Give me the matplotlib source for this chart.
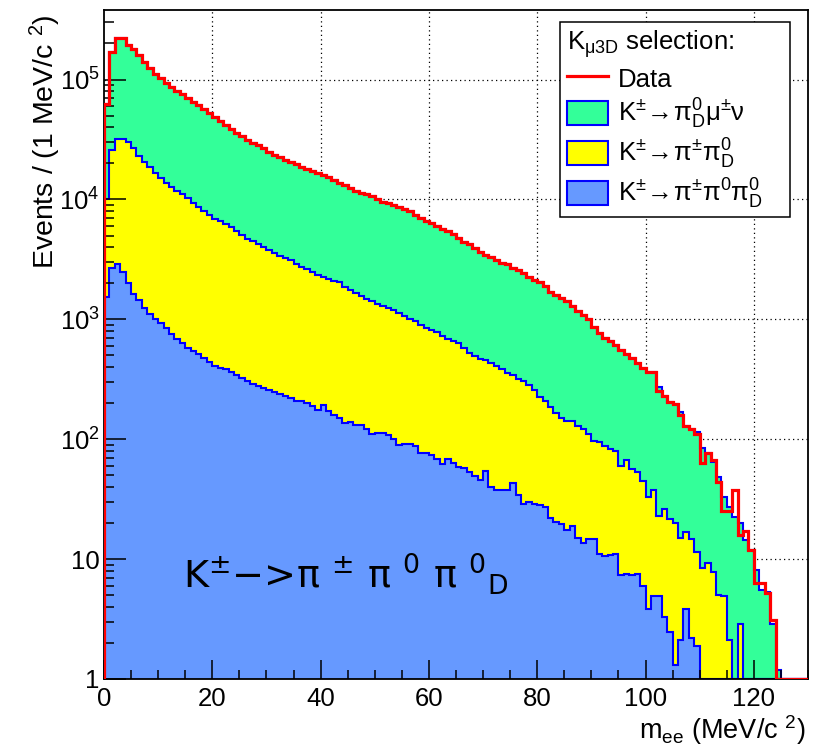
import numpy as np
import matplotlib
matplotlib.use("Agg")
import matplotlib.pyplot as plt
from matplotlib.lines import Line2D
from matplotlib.patches import Patch
from matplotlib.ticker import FixedLocator, NullFormatter, LogLocator

plt.rcParams['font.family'] = ['Liberation Sans', 'DejaVu Sans']
plt.rcParams['mathtext.default'] = 'regular'

# ---------------- data (1 MeV/c^2 bins from 0 to 130) ----------------
bin_edges = np.arange(0, 131, 1)

data = [63000, 170000, 220000, 220000, 195000, 179000, 159000, 141000, 125000, 111000,
        102000, 94000, 87000, 80000, 75000, 70000, 65000, 61000, 57000, 53000,
        49000, 45000, 41500, 38500, 35500, 33500, 31000, 29700, 28400, 26600,
        25000, 23600, 22500, 21300, 20500, 19600, 18800, 18000, 17200, 16500,
        16000, 15300, 14500, 13800, 13100, 12500, 11800, 11400, 11000, 10700,
        10100, 9600, 9250, 8950, 8650, 8300, 7950, 7400, 6950, 6650,
        6350, 6050, 5650, 5450, 5150, 4750, 4450, 4250, 3900, 3650,
        3450, 3280, 3130, 2970, 2870, 2700, 2580, 2420, 2240, 2130,
        2030, 1880, 1700, 1590, 1510, 1420, 1290, 1170, 1080, 1000,
        870, 775, 703, 660, 607, 560, 511, 479, 430, 396,
        365, 362, 252, 228, 206, 196, 160, 130, 122, 110,
        63, 77, 67, 44, 25, 25, 38, 16, 17, 12,
        6.3, 6.3, 5.2, 3.1, 0, 0, 0, 0, 0, 0]

# top of the full MC stack (K -> pi0_D mu nu on top)
mc_total = [63000, 170000, 220000, 220000, 195000, 179000, 159000, 141000, 125000, 111000,
            102000, 94000, 87000, 80000, 75000, 70000, 65000, 61000, 57000, 53000,
            49000, 45000, 41500, 38500, 35500, 33500, 31000, 29700, 28400, 26600,
            25000, 23600, 22500, 21300, 20500, 19600, 18800, 18000, 17200, 16500,
            16000, 15300, 14500, 13800, 13100, 12500, 11800, 11400, 11000, 10700,
            10100, 9600, 9250, 8950, 8650, 8300, 7950, 7400, 6950, 6650,
            6350, 6050, 5650, 5450, 5150, 4750, 4450, 4250, 3900, 3650,
            3450, 3280, 3130, 2970, 2870, 2700, 2580, 2420, 2240, 2130,
            2030, 1880, 1700, 1590, 1510, 1420, 1290, 1170, 1080, 1000,
            870, 775, 703, 660, 607, 560, 511, 479, 430, 396,
            365, 362, 275, 228, 206, 196, 170, 130, 122, 115,
            84, 77, 65, 48, 33, 27, 22.5, 20, 14.4, 12,
            8.1, 5.5, 5.3, 2.9, 1.2, 0, 0, 0, 0, 0]

# top of (K -> pi+- pi0_D) + (K -> pi+- pi0 pi0_D)
stack_pipi0 = [10000, 26000, 32000, 32000, 30000, 27000, 23000, 20500, 18500, 16600,
               15000, 13600, 12600, 11800, 11000, 10300, 9400, 8700, 8000, 7400,
               6900, 6600, 6250, 5850, 5400, 5050, 4700, 4500, 4250, 4000,
               3800, 3600, 3400, 3230, 3100, 2900, 2750, 2630, 2480, 2330,
               2240, 2170, 2100, 2030, 1870, 1740, 1670, 1560, 1490, 1420,
               1350, 1290, 1240, 1190, 1130, 1060, 1000, 960, 900, 845,
               810, 780, 730, 690, 660, 635, 580, 520, 490, 465,
               455, 435, 405, 385, 360, 345, 320, 305, 285, 255,
               225, 210, 185, 165, 150, 142, 142, 130, 122, 110,
               97, 94, 88, 83, 80, 60, 67, 56, 53, 45,
               33, 38, 23, 26, 21.5, 20, 15, 16.7, 14.7, 11.4,
               8.5, 9.3, 7.8, 5.0, 4.9, 2.1, 0, 2.9, 0, 0,
               0, 0, 0, 0, 0, 0, 0, 0, 0, 0]

# K -> pi+- pi0 pi0_D (bottom of the stack)
stack_pi2pi0 = [1530, 2700, 2870, 2500, 1990, 1630, 1440, 1250, 1110, 1000,
                930, 840, 750, 680, 630, 580, 545, 515, 475, 440,
                410, 395, 385, 362, 345, 322, 305, 290, 278, 268,
                258, 248, 236, 228, 222, 210, 208, 200, 190, 176,
                192, 172, 160, 150, 137, 140, 132, 131, 122, 110,
                113, 112, 108, 100, 89, 91, 91, 88, 76, 76,
                74, 68, 62, 69, 63, 59, 57, 53, 49, 46,
                54, 40, 38, 38, 38, 43, 34, 29, 30, 29,
                28, 27, 22, 20.5, 19.5, 17.5, 19, 15, 13.5, 14.7,
                14.7, 11, 10.7, 10.8, 11, 7.3, 7.5, 7.3, 7.5, 6,
                3.8, 4.9, 4.9, 3.3, 2.45, 1.3, 2.1, 3.8, 2.2, 1.9,
                0, 0, 0, 0, 0, 0, 0, 0, 0, 0,
                0, 0, 0, 0, 0, 0, 0, 0, 0, 0]

legend_labels = ['Data',
                 r'K$^{\pm}\!\rightarrow\!\pi^{0}_{D}\mu^{\pm}\nu$',
                 r'K$^{\pm}\!\rightarrow\!\pi^{\pm}\pi^{0}_{D}$',
                 r'K$^{\pm}\!\rightarrow\!\pi^{\pm}\pi^{0}\pi^{0}_{D}$']
legend_title = r'K$_{\mu 3D}$ selection:'
x_major = [0, 20, 40, 60, 80, 100, 120]
x_minor = [v for v in range(5, 131, 5) if v % 20 != 0]
y_major = [1, 10, 100, 1e3, 1e4, 1e5]
y_labels = ['1', '10', r'$10^{2}$', r'$10^{3}$', r'$10^{4}$', r'$10^{5}$']

# ---------------- style ----------------
c_green = '#33FF99'
c_yellow = '#FFFF00'
c_blue = '#6699FF'
c_line = '#0000FF'
c_red = '#FF0000'
ymin, ymax = 1.0, 3.8e5

fig = plt.figure(figsize=(8.17, 7.46), dpi=100)
ax = fig.add_axes([104 / 817, 67 / 746, 704 / 817, 669 / 746])
ax.set_yscale('log')
ax.set_xlim(0, 130)
ax.set_ylim(ymin, ymax)

# grid (dotted, beneath the histograms)
for gx in x_major[1:]:
    ax.axvline(gx, color='black', lw=0.9, ls=(0, (1, 2.6)), zorder=0.5)
for gy in y_major[1:]:
    ax.axhline(gy, color='black', lw=0.9, ls=(0, (1, 2.6)), zorder=0.5)

def fill_vals(a):
    return np.maximum(np.asarray(a, float), 1e-2)

def line_vals(a):
    return np.maximum(np.asarray(a, float), ymin)

z = 1.0
for vals, col in [(mc_total, c_green), (stack_pipi0, c_yellow), (stack_pi2pi0, c_blue)]:
    ax.stairs(fill_vals(vals), bin_edges, baseline=1e-2, fill=True,
              facecolor=col, edgecolor='none', lw=0, zorder=z)
    ax.stairs(line_vals(vals), bin_edges, baseline=ymin, fill=False,
              edgecolor=c_line, lw=1.5, zorder=z + 0.1)
    z += 0.2

ax.stairs(line_vals(data), bin_edges, baseline=ymin, fill=False,
          edgecolor=c_red, lw=2.3, zorder=6)

# ticks
ax.xaxis.set_major_locator(FixedLocator(x_major))
ax.xaxis.set_minor_locator(FixedLocator(x_minor))
ax.set_xticklabels([str(v) for v in x_major])
ax.yaxis.set_major_locator(FixedLocator(y_major))
ax.yaxis.set_minor_locator(LogLocator(base=10, subs=np.arange(2, 10), numticks=30))
ax.yaxis.set_minor_formatter(NullFormatter())
ax.set_yticklabels(y_labels)
ax.tick_params(which='both', direction='in', top=False, right=False,
               labelsize=18.5, width=1.1, colors='black')
ax.tick_params(axis='y', which='major', length=16, pad=3)
ax.tick_params(axis='y', which='minor', length=7.5)
ax.tick_params(axis='x', which='major', length=14, pad=6)
ax.tick_params(axis='x', which='minor', length=6.5)
for sp in ax.spines.values():
    sp.set_linewidth(1.3)
    sp.set_zorder(5)

# axis titles (ROOT style: aligned to the axis end)
ax.text(-0.083, 0.993, r'Events / (1 MeV/c $^{2}$)', transform=ax.transAxes,
        rotation=90, ha='center', va='top', fontsize=20.5)
ax.text(0.996, -0.0895, r'm$_{ee}$ (MeV/c $^{2}$)', transform=ax.transAxes,
        ha='right', va='baseline', fontsize=19.5)

# annotation
ax.text(14.6, 5.75, r'K$^{\pm}$−>π $^{\pm}$ π $^{0}$ π $^{0}{}_{D}$',
        family=['DejaVu Sans'], fontsize=27.5, va='baseline', ha='left', zorder=6)

# legend
handles = [Line2D([], [], color=c_red, lw=2.3),
           Patch(facecolor=c_green, edgecolor=c_line, lw=1.5),
           Patch(facecolor=c_yellow, edgecolor=c_line, lw=1.5),
           Patch(facecolor=c_blue, edgecolor=c_line, lw=1.5)]
leg = ax.legend(handles, legend_labels, title=legend_title, loc='upper left',
                bbox_to_anchor=(0.648, 0.70, 0.326, 0.282), mode='expand',
                borderaxespad=0, fontsize=18.5,
                title_fontsize=18.5, frameon=True, fancybox=False, shadow=False,
                framealpha=1, edgecolor='black', borderpad=0.25, labelspacing=0.22,
                handlelength=1.6, handleheight=1.05, handletextpad=0.4,
                alignment='left')
leg.get_frame().set_linewidth(1.1)
leg.set_zorder(7)

fig.savefig('out.png', dpi=100)
